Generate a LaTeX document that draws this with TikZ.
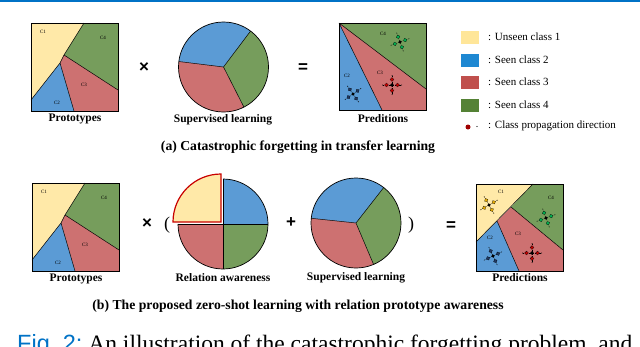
\documentclass[tikz,border=0pt]{standalone}
\usepackage{fontspec}
\setmainfont{Liberation Serif}
\newfontfamily\capsans{Liberation Sans}
\usetikzlibrary{calc}

\definecolor{unseenY}{RGB}{255,233,168}
\definecolor{seenB}{RGB}{91,155,213}
\definecolor{seenR}{RGB}{205,113,113}
\definecolor{seenG}{RGB}{118,157,92}
\definecolor{legY}{RGB}{255,230,153}
\definecolor{legB}{RGB}{30,136,210}
\definecolor{legR}{RGB}{192,80,77}
\definecolor{legG}{RGB}{84,130,53}
\definecolor{dotG}{RGB}{0,176,80}
\definecolor{dotR}{RGB}{200,0,0}
\definecolor{dotB}{RGB}{31,56,100}
\definecolor{dotY}{RGB}{230,170,0}
\definecolor{figblue}{RGB}{0,114,198}

\tikzset{
  region/.style  = {draw=black, line width=0.5pt, line join=round},
  frame/.style   = {draw=black, line width=1pt},
  clab/.style    = {font=\fontsize{5}{5}\selectfont, inner sep=0pt},
  lbl/.style     = {font=\bfseries\fontsize{11.5}{13}\selectfont, inner sep=0pt},
  captxt/.style  = {font=\bfseries\fontsize{13.7}{15}\selectfont, inner sep=0pt},
  op/.style      = {font=\capsans\bfseries\fontsize{17}{17}\selectfont, inner sep=0pt},
  paren/.style   = {font=\fontsize{18}{18}\selectfont, inner sep=0pt},
  legtxt/.style  = {font=\fontsize{11}{12}\selectfont, anchor=west, inner sep=0pt},
  legbox/.style  = {minimum width=18pt, minimum height=13pt, inner sep=0pt},
}

% prototype square, shifted by (#1,#2)
\newcommand{\protosq}[2]{%
  \begin{scope}[shift={(#1,#2)}]
    \fill[unseenY] (0,0) -- (53,0) -- (33,32) -- (29,40) -- (0,77) -- cycle;
    \fill[seenG] (53,0) -- (87,0) -- (87,67) -- (33,32) -- cycle;
    \fill[seenR] (33,32) -- (87,67) -- (87,88) -- (43,88) -- (29,40) -- cycle;
    \fill[seenB] (29,40) -- (43,88) -- (0,88) -- (0,77) -- cycle;
    \draw[region] (53,0) -- (33,32) -- (29,40) -- (0,77);
    \draw[region] (33,32) -- (87,67);
    \draw[region] (29,40) -- (43,88);
    \draw[frame] (0,0) rectangle (87,88);
    \node[clab] at (12,9) {C1};
    \node[clab] at (72,15) {C4};
    \node[clab] at (53,62) {C3};
    \node[clab] at (26,80) {C2};
  \end{scope}}

% cluster: x, y, colour, tilt
\newcommand{\cluster}[4]{%
  \begin{scope}[shift={(#1,#2)}, rotate=#4]
    \foreach \a in {0,90,180,270} {
      \draw[densely dotted, line width=0.4pt] (0,0) -- (\a:9);
      \filldraw[fill=#3, draw=black, line width=0.2pt] (\a:5.5) circle (1.9);
      \fill[black] (\a:9.5) circle (0.5);
    }
    \fill[black] (0,0) circle (1.8);
  \end{scope}}

% pie of three slices around (#1,#2)
\newcommand{\threepie}[5]{%
  \begin{scope}[shift={(#1,#2)}, yscale=-1]
    \fill[seenB] (0,0) -- (#3:45) arc[start angle=#3, end angle=#4, radius=45] -- cycle;
    \fill[seenR] (0,0) -- (#4:45) arc[start angle=#4, end angle=#5, radius=45] -- cycle;
    \fill[seenG] (0,0) -- (#5:45) arc[start angle=#5, end angle=#3+360, radius=45] -- cycle;
    \draw[region] (#3:45) -- (0,0) -- (#4:45) (0,0) -- (#5:45);
    \draw[line width=0.7pt] (0,0) circle (45);
  \end{scope}}

\begin{document}
\begin{tikzpicture}[x=1pt, y=-1pt]
  \useasboundingbox (0,0) rectangle (640,346);
  \fill[figblue] (0,0) rectangle (640,1.5);

  % (a) row
  \protosq{31}{23}
  \node[lbl] (protoA) at (75,119) {Prototypes};
  \node[op] (timesA) at (144,68) {×};
  \threepie{223.5}{67}{53}{173}{297}
  \node[lbl] (superA) at (223,120) {Supervised learning};
  \node[op] (eqA) at (303,68) {=};

  \fill[seenG] (339,23) -- (426,23) -- (426,89) -- cycle;
  \fill[seenR] (339,23) -- (426,89) -- (426,110) -- (382,110) -- cycle;
  \fill[seenB] (339,23) -- (382,110) -- (339,110) -- cycle;
  \draw[region] (426,89) -- (339,23) -- (382,110);
  \draw[frame] (339,23) rectangle (426,110);
  \node[clab] (c4a) at (383,34) {C4};
  \node[clab] (c3a) at (380,73) {C3};
  \node[clab] (c2a) at (347,76) {C2};
  \cluster{400}{42}{dotG}{20}
  \cluster{392}{85}{dotR}{0}
  \cluster{353}{94}{dotB}{35}
  \node[lbl] (predA) at (383,119) {Preditions};

  \node[captxt] (capA) at (298,147) {(a) Catastrophic forgetting in transfer learning};

  % legend
  \node[legbox, fill=legY] (lgY) at (470,37) {};
  \node[legbox, fill=legB] (lgB) at (470,60) {};
  \node[legbox, fill=legR] (lgR) at (470,82) {};
  \node[legbox, fill=legG] (lgG) at (470,105) {};
  \fill[dotR!80!black] (468,127) circle (2.5);
  \fill[black] (477,126.5) circle (0.7);
  \node[legtxt] (ltY) at (488,37) {: Unseen class 1};
  \node[legtxt] (ltB) at (488,60) {: Seen class 2};
  \node[legtxt] (ltR) at (488,82) {: Seen class 3};
  \node[legtxt] (ltG) at (488,105) {: Seen class 4};
  \node[legtxt] (ltD) at (488,126) {: Class propagation direction};

  % (b) row
  \protosq{32}{183}
  \node[lbl] (protoB) at (76,279) {Prototypes};
  \node[op] (timesB) at (147,224) {×};
  \node[paren] (lpar) at (167,225) {(};

  \begin{scope}[shift={(223,224)}, yscale=-1]
    \fill[seenB] (0,0) -- (0:45) arc[start angle=0, end angle=90, radius=45] -- cycle;
    \fill[seenR] (0,0) -- (180:45) arc[start angle=180, end angle=270, radius=45] -- cycle;
    \fill[seenG] (0,0) -- (270:45) arc[start angle=270, end angle=360, radius=45] -- cycle;
    \draw[line width=0.7pt] (0:45) arc[start angle=0, end angle=90, radius=45];
    \draw[line width=0.7pt] (180:45) arc[start angle=180, end angle=360, radius=45];
    \draw[region] (-45,0) -- (45,0) (0,0) -- (0,-45) (0,0) -- (0,45);
    \filldraw[fill=unseenY, draw=dotR, line width=1.2pt, line join=miter]
      (-2,2) -- (-2,50) arc[start angle=90, end angle=180, radius=48] -- cycle;
  \end{scope}
  \node[lbl] (relB) at (223,278) {Relation awareness};
  \node[op] (plusB) at (291,223) {+};

  \threepie{356}{223}{52}{174}{293}
  \node[lbl] (superB) at (356,278) {Supervised learning};
  \node[paren] (rpar) at (411,225) {)};
  \node[op] (eqB) at (451,226) {=};

  \fill[unseenY] (476,184) -- (533,184) -- (476,242) -- cycle;
  \fill[seenG] (533,184) -- (563,184) -- (563,250) -- (511,207) -- cycle;
  \fill[seenR] (511,207) -- (563,250) -- (563,271) -- (519,271) -- (497,221) -- cycle;
  \fill[seenB] (497,221) -- (519,271) -- (476,271) -- (476,242) -- cycle;
  \draw[region] (533,184) -- (476,242) (511,207) -- (563,250) (497,221) -- (519,271);
  \draw[frame] (476,184) rectangle (563,271);
  \node[clab] (c1b) at (501,192) {C1};
  \node[clab] (c4b) at (551,198) {C4};
  \node[clab] (c3b) at (518,234) {C3};
  \node[clab] (c2b) at (490,238) {C2};
  \cluster{489}{205}{dotY}{30}
  \cluster{546}{218}{dotG}{20}
  \cluster{532}{253}{dotR}{0}
  \cluster{493}{256}{dotB}{25}
  \node[lbl] (predB) at (520,278) {Predictions};

  \node[captxt] (capB) at (298,306) {(b) The proposed zero-shot learning with relation prototype awareness};

  % figure caption, cut by the page edge
  \node[anchor=base west, inner sep=0pt, font=\fontsize{23.5}{26}\selectfont] (figcap) at (17,351)
    {{\capsans\color{figblue}Fig.~2:}\ An illustration of the catastrophic forgetting problem, and};
\end{tikzpicture}
\end{document}
